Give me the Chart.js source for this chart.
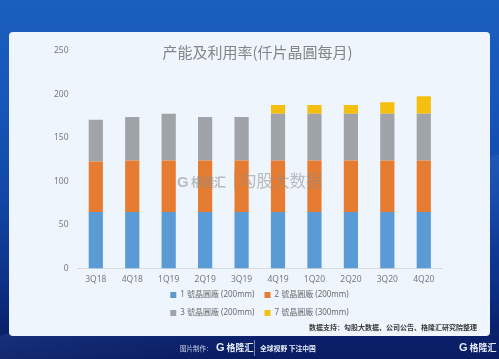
<!DOCTYPE html>
<html>
<head>
<meta charset="utf-8">
<script src="https://cdn.jsdelivr.net/npm/chart.js@4.4.1/dist/chart.umd.min.js"></script>
<style>
  html, body { margin: 0; padding: 0; }
  body {
    width: 499px; height: 359px; overflow: hidden; position: relative;
    background: linear-gradient(180deg, #1b5fbe 0%, #1656b8 30%, #1247a6 55%, #0d3289 78%, #0a216c 92%, #0a1d63 100%);
    font-family: "Noto Sans CJK SC", "Noto Sans", sans-serif;
  }
  #shine {
    position: absolute; left: 0; top: 0; width: 499px; height: 359px;
    background: linear-gradient(160deg, rgba(255,255,255,0) 62%, rgba(120,180,255,0.10) 62.3%, rgba(120,180,255,0.0) 80%);
  }
  #card {
    position: absolute; left: 9px; top: 32px; width: 481px; height: 304px;
    background: #eef5fc; border-radius: 4px;
  }
  #wrap { position: absolute; left: 0; top: 0; width: 499px; height: 359px; }
  .abs { position: absolute; white-space: nowrap; }
  #src { right: 22px; top: 322px; font-size: 7px; font-weight: bold; color: #3a3a3a; }
  #wm { left: 177px; top: 170px; color: rgba(140,140,140,0.55); height: 20px; }
  #wm .g { position: absolute; left: 0; top: 3px; font-family: "Liberation Sans", sans-serif; font-weight: bold; font-size: 15px; }
  #wm .n { position: absolute; left: 14px; top: 3px; font-size: 12px; font-weight: bold; letter-spacing: -0.5px; }
  #wm .bar { position: absolute; left: 57px; top: 0px; width: 1px; height: 20px; background: rgba(150,150,150,0.5); }
  #wm .t { position: absolute; left: 63px; top: -2px; font-size: 16.5px; }
  .foot { color: #e6ecf8; }
  #f1 { left: 180px; top: 343px; font-size: 6.5px; color: #c9d3ea; }
  #f2 { left: 216px; top: 341px; font-size: 9px; font-weight: bold; }
  #f2 .g { font-family: "Liberation Sans", sans-serif; font-size: 11px; margin-right: 2px; }
  #fsep { left: 254px; top: 340px; width: 1px; height: 16px; background: rgba(255,255,255,0.45); }
  #f3 { left: 260px; top: 343px; font-size: 6.8px; font-weight: bold; }
  #f4 { left: 459px; top: 341px; font-size: 9px; font-weight: bold; }
  #f4 .g { font-family: "Liberation Sans", sans-serif; font-size: 11px; margin-right: 2px; }
</style>
</head>
<body>
<div id="shine"></div>
<div id="card"></div>
<div id="wrap"><canvas id="c" width="499" height="359"></canvas></div>
<div id="wm" class="abs"><span class="g">G</span><span class="n">格隆汇</span><span class="bar"></span><span class="t">勾股大数据</span></div>
<div id="src" class="abs">数据支持：勾股大数据、公司公告、格隆汇研究院整理</div>
<div id="f1" class="abs foot">图片制作：</div>
<div id="f2" class="abs foot"><span class="g">G</span>格隆汇</div>
<div id="fsep" class="abs"></div>
<div id="f3" class="abs foot">全球视野 下注中国</div>
<div id="f4" class="abs foot"><span class="g">G</span>格隆汇</div>
<script>
// ---- data ----
const categories = ['3Q18','4Q18','1Q19','2Q19','3Q19','4Q19','1Q20','2Q20','3Q20','4Q20'];
const fab1 = [65, 65, 65, 65, 65, 65, 65, 65, 65, 65];
const fab2 = [58, 59, 59, 59, 59, 59, 59, 59, 59, 59];
const fab3 = [48, 50, 54, 50, 50, 54, 54, 54, 54, 54];
const fab7 = [null, null, null, null, null, 10, 10, 10, 13, 20];
const seriesNames = ['1 號晶圓廠 (200mm)', '2 號晶圓廠 (200mm)', '3 號晶圓廠 (200mm)', '7 號晶圓廠 (300mm)'];
const titleText = '产能及利用率(仟片晶圓每月)';
const yTicks = { min: 0, max: 250, step: 50 };

// ---- layout helpers ----
const LEGEND_W = 250;
const LEGEND_CX = 259.5;
const legendTweak = {
  id: 'legendTweak',
  beforeLayout(chart) {
    const L = chart.legend;
    if (L && !L._twoRow) {
      const orig = L.update;
      L.update = function (maxW, maxH, margins) {
        return orig.call(this, Math.min(maxW, LEGEND_W), maxH, margins);
      };
      L._twoRow = true;
    }
  },
  afterLayout(chart) {
    const L = chart.legend;
    if (L) {
      L.left = LEGEND_CX - LEGEND_W / 2;
      L.right = LEGEND_CX + LEGEND_W / 2;
      L.width = LEGEND_W;
      L.top -= 10; L.bottom -= 10;
    }
    const T = chart.titleBlock;
    if (T) { T.left += 14; T.right += 14; }
  }
};

const FONT = '"Noto Sans", "Noto Sans CJK SC", sans-serif';
Chart.defaults.font.family = FONT;

const colors = ['#5b9bd5', '#e67c32', '#a0a3a7', '#f5bf10'];
const values = [fab1, fab2, fab3, fab7];

new Chart(document.getElementById('c'), {
  type: 'bar',
  data: {
    labels: categories,
    datasets: values.map((v, i) => ({
      label: seriesNames[i],
      data: v,
      backgroundColor: colors[i],
      borderWidth: 0,
      barPercentage: 0.39,
      categoryPercentage: 1.0
    }))
  },
  options: {
    responsive: false,
    animation: false,
    layout: { padding: { left: 45, right: 57, top: 0, bottom: 22 } },
    scales: {
      x: {
        stacked: true,
        grid: { display: false, drawTicks: false },
        border: { display: true, color: '#d6dbe1', width: 1 },
        ticks: { color: '#7a7a7a', padding: 7, font: { size: 8.5, lineHeight: 1 }, maxRotation: 0 }
      },
      y: {
        stacked: true,
        min: yTicks.min, max: yTicks.max,
        grid: { display: false, drawTicks: false },
        border: { display: false },
        ticks: { stepSize: yTicks.step, color: '#7a7a7a', padding: 9, font: { size: 8.5, lineHeight: 1 } }
      }
    },
    plugins: {
      title: {
        display: true,
        text: titleText,
        color: '#858585',
        font: { family: '"Noto Sans CJK SC", sans-serif', size: 15, weight: 'normal', lineHeight: 1.2 },
        padding: { top: 43, bottom: -10 }
      },
      legend: {
        display: true,
        position: 'bottom',
        labels: {
          boxWidth: 6, boxHeight: 6, padding: 10, color: '#6b6b6b',
          font: { family: '"Noto Sans", "Noto Sans CJK TC", sans-serif', size: 8 }
        }
      },
      tooltip: { enabled: false }
    }
  },
  plugins: [legendTweak]
});
</script>
</body>
</html>
